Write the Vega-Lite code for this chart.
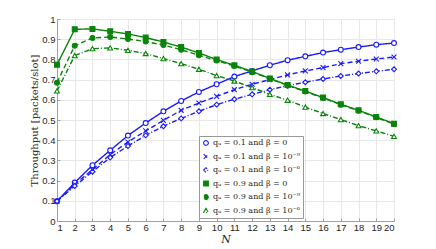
{
  "$schema": "https://vega.github.io/schema/vega-lite/v6.json",
  "width": 337,
  "height": 202,
  "autosize": {"type": "none"},
  "padding": {"left": 57, "top": 19, "right": 42, "bottom": 28},
  "background": "white",
  "config": {
    "view": {"stroke": "#a0a0a0", "strokeWidth": 1},
    "axis": {
      "gridColor": "#e8e8e8",
      "domainColor": "#a0a0a0",
      "tickColor": "#a0a0a0",
      "labelFont": "Liberation Sans",
      "labelFontSize": 9.5,
      "labelColor": "#262626",
      "titleFont": "DejaVu Serif",
      "titleFontWeight": "normal",
      "titleColor": "#262626"
    },
    "legend": {
      "orient": "none",
      "legendX": 142,
      "legendY": 117,
      "fillColor": "white",
      "strokeColor": "#999999",
      "padding": 3,
      "labelFont": "DejaVu Serif",
      "labelFontSize": 8,
      "labelColor": "#262626",
      "labelOffset": 3,
      "rowPadding": 3.5,
      "symbolSize": 22,
      "symbolStrokeWidth": 1.1
    }
  },
  "datasets": {
    "d": [
      {"N":1,"s":"a","y":0.098},{"N":2,"s":"a","y":0.19},{"N":3,"s":"a","y":0.276},{"N":4,"s":"a","y":0.35},{"N":5,"s":"a","y":0.423},{"N":6,"s":"a","y":0.485},{"N":7,"s":"a","y":0.543},{"N":8,"s":"a","y":0.594},{"N":9,"s":"a","y":0.639},{"N":10,"s":"a","y":0.677},{"N":11,"s":"a","y":0.715},{"N":12,"s":"a","y":0.743},{"N":13,"s":"a","y":0.771},{"N":14,"s":"a","y":0.796},{"N":15,"s":"a","y":0.815},{"N":16,"s":"a","y":0.834},{"N":17,"s":"a","y":0.848},{"N":18,"s":"a","y":0.861},{"N":19,"s":"a","y":0.873},{"N":20,"s":"a","y":0.881},
      {"N":1,"s":"b","y":0.098},{"N":2,"s":"b","y":0.182},{"N":3,"s":"b","y":0.254},{"N":4,"s":"b","y":0.329},{"N":5,"s":"b","y":0.391},{"N":6,"s":"b","y":0.446},{"N":7,"s":"b","y":0.498},{"N":8,"s":"b","y":0.548},{"N":9,"s":"b","y":0.584},{"N":10,"s":"b","y":0.617},{"N":11,"s":"b","y":0.65},{"N":12,"s":"b","y":0.677},{"N":13,"s":"b","y":0.7},{"N":14,"s":"b","y":0.723},{"N":15,"s":"b","y":0.743},{"N":16,"s":"b","y":0.759},{"N":17,"s":"b","y":0.779},{"N":18,"s":"b","y":0.791},{"N":19,"s":"b","y":0.802},{"N":20,"s":"b","y":0.812},
      {"N":1,"s":"c","y":0.098},{"N":2,"s":"c","y":0.173},{"N":3,"s":"c","y":0.244},{"N":4,"s":"c","y":0.314},{"N":5,"s":"c","y":0.371},{"N":6,"s":"c","y":0.424},{"N":7,"s":"c","y":0.469},{"N":8,"s":"c","y":0.508},{"N":9,"s":"c","y":0.543},{"N":10,"s":"c","y":0.576},{"N":11,"s":"c","y":0.603},{"N":12,"s":"c","y":0.627},{"N":13,"s":"c","y":0.65},{"N":14,"s":"c","y":0.67},{"N":15,"s":"c","y":0.687},{"N":16,"s":"c","y":0.703},{"N":17,"s":"c","y":0.718},{"N":18,"s":"c","y":0.73},{"N":19,"s":"c","y":0.741},{"N":20,"s":"c","y":0.751},
      {"N":1,"s":"d","y":0.774},{"N":2,"s":"d","y":0.949},{"N":3,"s":"d","y":0.951},{"N":4,"s":"d","y":0.939},{"N":5,"s":"d","y":0.926},{"N":6,"s":"d","y":0.908},{"N":7,"s":"d","y":0.886},{"N":8,"s":"d","y":0.861},{"N":9,"s":"d","y":0.832},{"N":10,"s":"d","y":0.799},{"N":11,"s":"d","y":0.771},{"N":12,"s":"d","y":0.74},{"N":13,"s":"d","y":0.706},{"N":14,"s":"d","y":0.673},{"N":15,"s":"d","y":0.643},{"N":16,"s":"d","y":0.611},{"N":17,"s":"d","y":0.578},{"N":18,"s":"d","y":0.548},{"N":19,"s":"d","y":0.515},{"N":20,"s":"d","y":0.482},
      {"N":1,"s":"e","y":0.685},{"N":2,"s":"e","y":0.868},{"N":3,"s":"e","y":0.906},{"N":4,"s":"e","y":0.911},{"N":5,"s":"e","y":0.901},{"N":6,"s":"e","y":0.888},{"N":7,"s":"e","y":0.871},{"N":8,"s":"e","y":0.848},{"N":9,"s":"e","y":0.82},{"N":10,"s":"e","y":0.794},{"N":11,"s":"e","y":0.767},{"N":12,"s":"e","y":0.737},{"N":13,"s":"e","y":0.704},{"N":14,"s":"e","y":0.671},{"N":15,"s":"e","y":0.641},{"N":16,"s":"e","y":0.609},{"N":17,"s":"e","y":0.576},{"N":18,"s":"e","y":0.546},{"N":19,"s":"e","y":0.513},{"N":20,"s":"e","y":0.48},
      {"N":1,"s":"f","y":0.644},{"N":2,"s":"f","y":0.819},{"N":3,"s":"f","y":0.853},{"N":4,"s":"f","y":0.857},{"N":5,"s":"f","y":0.845},{"N":6,"s":"f","y":0.829},{"N":7,"s":"f","y":0.804},{"N":8,"s":"f","y":0.779},{"N":9,"s":"f","y":0.751},{"N":10,"s":"f","y":0.72},{"N":11,"s":"f","y":0.693},{"N":12,"s":"f","y":0.66},{"N":13,"s":"f","y":0.627},{"N":14,"s":"f","y":0.598},{"N":15,"s":"f","y":0.564},{"N":16,"s":"f","y":0.532},{"N":17,"s":"f","y":0.502},{"N":18,"s":"f","y":0.472},{"N":19,"s":"f","y":0.446},{"N":20,"s":"f","y":0.419}
    ]
  },
  "data": {"name": "d"},
  "encoding": {
    "x": {
      "field": "N", "type": "quantitative",
      "scale": {"domain": [1, 20], "nice": false, "zero": false},
      "axis": {"values": [1,2,3,4,5,6,7,8,9,10,11,12,13,14,15,16,17,18,19,20], "title": "N", "titleFontStyle": "italic", "titleFontSize": 11, "titlePadding": 2, "tickSize": -3, "labelPadding": 4}
    },
    "y": {
      "field": "y", "type": "quantitative",
      "scale": {"domain": [0, 1], "nice": false},
      "axis": {"values": [0,0.1,0.2,0.3,0.4,0.5,0.6,0.7,0.8,0.9,1], "format": "~g", "title": "Throughput [packets/slot]", "titleFontSize": 10, "titlePadding": 2, "tickSize": -3, "labelPadding": 5}
    }
  },
  "layer": [
    {
      "mark": {"type": "line", "strokeWidth": 1.4},
      "encoding": {
        "stroke": {"field": "s", "type": "nominal", "scale": {"domain": ["a","b","c","d","e","f"], "range": ["#1a1aff","#1a1aff","#1a1aff","#0a840a","#0a840a","#0a840a"]},
          "legend": {
            "title": null,
            "labelExpr": "{'a':'qᵤ = 0.1 and β = 0','b':'qᵤ = 0.1 and β = 10⁻⁹','c':'qᵤ = 0.1 and β = 10⁻⁶','d':'qᵤ = 0.9 and β = 0','e':'qᵤ = 0.9 and β = 10⁻⁹','f':'qᵤ = 0.9 and β = 10⁻⁶'}[datum.value]"
          }
        },
        "strokeDash": {"field": "s", "type": "nominal", "scale": {"domain": ["a","b","c","d","e","f"], "range": [[1,0],[5,3],[5,2,1,2],[1,0],[5,3],[5,2,1,2]]}, "legend": null}
      }
    },
    {
      "mark": {"type": "point", "size": 24, "strokeWidth": 1.1, "opacity": 1},
      "encoding": {
        "stroke": {"field": "s", "type": "nominal",
          "legend": {
            "title": null,
            "labelExpr": "{'a':'qᵤ = 0.1 and β = 0','b':'qᵤ = 0.1 and β = 10⁻⁹','c':'qᵤ = 0.1 and β = 10⁻⁶','d':'qᵤ = 0.9 and β = 0','e':'qᵤ = 0.9 and β = 10⁻⁹','f':'qᵤ = 0.9 and β = 10⁻⁶'}[datum.value]"
          }
        },
        "fill": {"field": "s", "type": "nominal", "scale": {"domain": ["a","b","c","d","e","f"], "range": ["white","#1a1aff","white","#0a840a","#0a840a","white"]},
          "legend": {
            "title": null,
            "labelExpr": "{'a':'qᵤ = 0.1 and β = 0','b':'qᵤ = 0.1 and β = 10⁻⁹','c':'qᵤ = 0.1 and β = 10⁻⁶','d':'qᵤ = 0.9 and β = 0','e':'qᵤ = 0.9 and β = 10⁻⁹','f':'qᵤ = 0.9 and β = 10⁻⁶'}[datum.value]"
          }
        },
        "shape": {"field": "s", "type": "nominal", "scale": {"domain": ["a","b","c","d","e","f"], "range": ["circle","M-1,-1L1,1M-1,1L1,-1","diamond","square","circle","triangle-up"]},
          "legend": {
            "title": null,
            "labelExpr": "{'a':'qᵤ = 0.1 and β = 0','b':'qᵤ = 0.1 and β = 10⁻⁹','c':'qᵤ = 0.1 and β = 10⁻⁶','d':'qᵤ = 0.9 and β = 0','e':'qᵤ = 0.9 and β = 10⁻⁹','f':'qᵤ = 0.9 and β = 10⁻⁶'}[datum.value]"
          }
        }
      }
    }
  ]
}
